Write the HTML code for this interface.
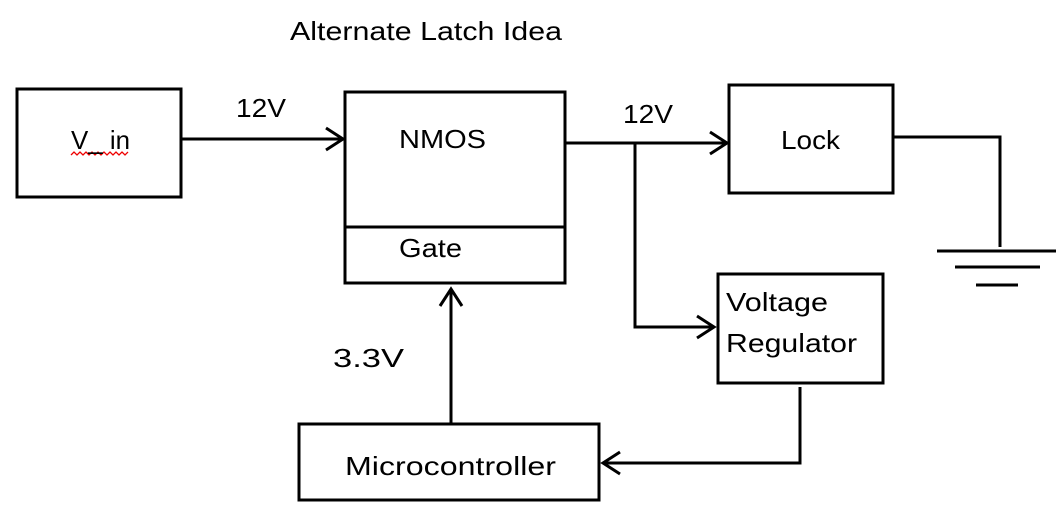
<!DOCTYPE html>
<html><head><style>
body{margin:0;background:#fff;}
svg text{font-family:"Liberation Sans",sans-serif;font-size:26px;fill:#000;}
</style></head><body>
<svg width="1062" height="511" xmlns="http://www.w3.org/2000/svg">
<g fill="none" stroke="#000" stroke-width="3">
<rect x="17" y="89" width="164" height="108"/>
<rect x="345" y="92" width="220" height="191"/>
<line x1="345" y1="227" x2="565" y2="227"/>
<rect x="729" y="85" width="164" height="108"/>
<rect x="718" y="274" width="165" height="109"/>
<rect x="299" y="424" width="300" height="76"/>
<polyline points="181,139 343,139"/>
<polyline points="326,128 343,139 326,150"/>
<polyline points="565,143 727,143"/>
<polyline points="710,132 727,143 710,154"/>
<polyline points="635,143 635,327 714,327"/>
<polyline points="697,316 714,327 697,338"/>
<polyline points="893,137 1000,137 1000,247"/>
<line x1="937" y1="251" x2="1056" y2="251"/>
<line x1="955" y1="267" x2="1040" y2="267"/>
<line x1="976" y1="285" x2="1018" y2="285"/>
<polyline points="800,387 800,463 603,463"/>
<polyline points="620,452 603,463 620,474"/>
<line x1="451" y1="424" x2="451" y2="289"/>
<polyline points="440,306 451,289 462,306"/>
</g>
<polyline points="71,155 74,152 77,155 80,152 83,155 86,152 89,155 92,152 95,155 98,152 101,155 104,152 107,155 110,152 113,155 116,152 119,155 122,152 125,155 128,152" fill="none" stroke="#e00" stroke-width="1.3"/>
<text x="290" y="40" textLength="272" lengthAdjust="spacingAndGlyphs">Alternate Latch Idea</text>
<text x="236" y="117" textLength="50" lengthAdjust="spacingAndGlyphs">12V</text>
<text x="623" y="123" textLength="50" lengthAdjust="spacingAndGlyphs">12V</text>
<text x="333" y="367" textLength="71" lengthAdjust="spacingAndGlyphs">3.3V</text>
<text x="71" y="149" textLength="59" lengthAdjust="spacingAndGlyphs">V_ in</text>
<text x="399" y="148" textLength="87" lengthAdjust="spacingAndGlyphs">NMOS</text>
<text x="399" y="257" textLength="63" lengthAdjust="spacingAndGlyphs">Gate</text>
<text x="781" y="149" textLength="59" lengthAdjust="spacingAndGlyphs">Lock</text>
<text x="726" y="311" textLength="102" lengthAdjust="spacingAndGlyphs">Voltage</text>
<text x="726" y="352" textLength="131" lengthAdjust="spacingAndGlyphs">Regulator</text>
<text x="345" y="475" textLength="211" lengthAdjust="spacingAndGlyphs">Microcontroller</text>
</svg>
</body></html>
